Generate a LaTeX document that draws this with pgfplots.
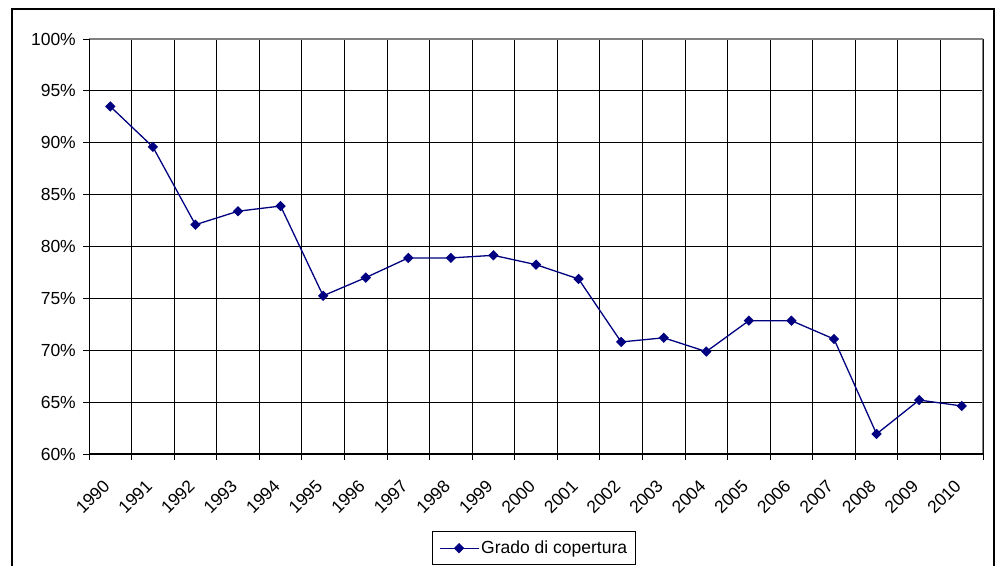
\documentclass[border=0pt]{standalone}
\usepackage{pgfplots}
\pgfplotsset{compat=1.18}
\usepackage{fontspec}
\setmainfont{Liberation Sans}
\definecolor{navy}{RGB}{0,0,128}
\definecolor{framegray}{RGB}{128,128,128}
\begin{document}
\begin{tikzpicture}[x=1pt,y=1pt,font=\fontsize{17.5}{21}\selectfont]
\useasboundingbox (0,0) rectangle (995,565);
\draw[black, line width=1.2pt] (12,-30) rectangle (994,556);
\begin{axis}[
  at={(89pt,111pt)}, anchor=south west,
  scale only axis, width=894pt, height=415pt,
  xmin=0, xmax=21, ymin=60, ymax=100,
  xtick={0,...,21},
  xticklabels={1990,1991,1992,1993,1994,1995,1996,1997,1998,1999,2000,2001,2002,2003,2004,2005,2006,2007,2008,2009,2010,{}},
  ytick={60,65,70,75,80,85,90,95,100},
  yticklabels={60\%,65\%,70\%,75\%,80\%,85\%,90\%,95\%,100\%},
  tick pos=left, tick align=outside, major tick length=6pt,
  tick style={black, line width=0.8pt},
  grid=major, grid style={black, line width=0.8pt},
  axis line style={draw=none},
  xticklabel style={xshift=13pt, yshift=-17pt, rotate=45, anchor=north east, inner sep=1pt},
  yticklabel style={xshift=-5pt, inner sep=2pt},
  legend style={at={(0.4978,-0.186)}, anchor=north, draw=black, line width=0.8pt,
    inner xsep=6.5pt, inner ysep=7.5pt, font=\fontsize{17.5}{21}\selectfont, legend cell align=left},
  legend image code/.code={\draw[mark repeat=2,mark phase=2] plot coordinates {(0pt,0pt) (19.5pt,0pt) (39pt,0pt)};},
]
\addplot[navy, line width=1.3pt, mark=square*, mark size=3pt, mark options={rotate=45, solid, fill=navy}]
coordinates {
(0.5,93.5) (1.5,89.6) (2.5,82.1) (3.5,83.4) (4.5,83.9) (5.5,75.25) (6.5,77.0)
(7.5,78.9) (8.5,78.9) (9.5,79.15) (10.5,78.25) (11.5,76.87) (12.5,70.8) (13.5,71.2)
(14.5,69.87) (15.5,72.85) (16.5,72.85) (17.5,71.08) (18.5,61.93) (19.5,65.2) (20.5,64.63)
};
\addlegendentry{Grado di copertura}
\draw[framegray, line width=1.2pt] (axis cs:0,100) -- (axis cs:21,100) -- (axis cs:21,60);
\draw[black, line width=1.2pt] (axis cs:0,100) -- (axis cs:0,60) -- (axis cs:21,60);
\end{axis}
\end{tikzpicture}
\end{document}
